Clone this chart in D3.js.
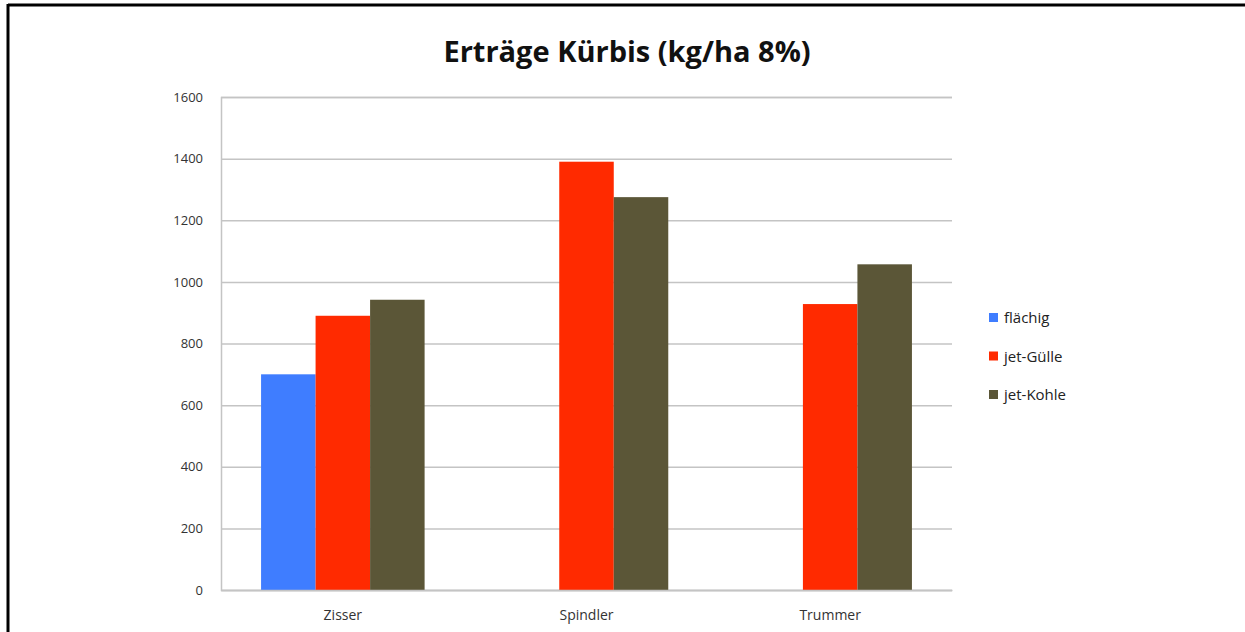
<!DOCTYPE html>
<html>
<head>
<meta charset="utf-8">
<script src="https://cdn.jsdelivr.net/npm/d3@7"></script>
<style>
  html, body { margin: 0; padding: 0; background: #fff; }
  svg { display: block; }
  .tick text { font-family: "Open Sans", sans-serif; fill: #333; }
</style>
</head>
<body>
<svg id="chart" width="1245" height="632"></svg>
<script>
/* ── Data ─────────────────────────────────────────── */
const categories = ['Zisser', 'Spindler', 'Trummer'];
const seriesNames = ['flächig', 'jet-Gülle', 'jet-Kohle'];
const flaechig  = [700, null, null];
const jetGuelle = [890, 1390, 928];
const jetKohle  = [942, 1275, 1057];
const yTicks = [0, 200, 400, 600, 800, 1000, 1200, 1400, 1600];
const colors = ['#3f7dff', '#ff2a00', '#5b5637'];

const seriesValues = [flaechig, jetGuelle, jetKohle];

/* ── Layout ───────────────────────────────────────── */
const svg = d3.select('#chart');
const plot = { left: 221, right: 952, top: 97, bottom: 590 };

// frame (top + left edges only, the rest is cropped off)
svg.append('line').attr('x1', 8).attr('x2', 1245).attr('y1', 5).attr('y2', 5)
  .attr('stroke', '#000').attr('stroke-width', 3);
svg.append('line').attr('x1', 8).attr('x2', 8).attr('y1', 4).attr('y2', 632)
  .attr('stroke', '#000').attr('stroke-width', 3);

const x = d3.scaleBand().domain(categories).range([plot.left, plot.right]).paddingInner(0).paddingOuter(0);
const x1 = d3.scaleBand().domain(d3.range(seriesNames.length))
  .range([0, x.bandwidth()]).paddingOuter(0.735).paddingInner(0);
const y = d3.scaleLinear().domain([0, 1600]).range([plot.bottom, plot.top]);

/* ── Grid + y axis ────────────────────────────────── */
const yAxis = d3.axisLeft(y).tickValues(yTicks).tickFormat(d3.format('d'))
  .tickSize(-(plot.right - plot.left)).tickPadding(18);
const gy = svg.append('g').attr('transform', `translate(${plot.left},0)`).call(yAxis);
gy.select('.domain').attr('stroke', '#c4c4c4').attr('stroke-width', 1.5);
gy.selectAll('.tick line').attr('stroke', '#c4c4c4').attr('stroke-width', 1.5);
gy.selectAll('.tick text').attr('font-size', 13);

/* ── Bars ─────────────────────────────────────────── */
const rows = [];
categories.forEach((c, i) => {
  seriesValues.forEach((vals, s) => {
    if (vals[i] != null) rows.push({ cat: c, s, v: vals[i] });
  });
});

svg.append('g').selectAll('rect')
  .data(rows)
  .join('rect')
  .attr('x', d => x(d.cat) + x1(d.s))
  .attr('y', d => y(d.v))
  .attr('width', x1.bandwidth())
  .attr('height', d => y(0) - y(d.v))
  .attr('fill', d => colors[d.s]);

/* ── X axis ───────────────────────────────────────── */
const xAxis = d3.axisBottom(x).tickSize(0).tickPadding(20);
const gx = svg.append('g').attr('transform', `translate(0,${plot.bottom})`).call(xAxis);
gx.select('.domain').attr('stroke', '#c4c4c4').attr('stroke-width', 1.5);
gx.selectAll('.tick text').attr('font-size', 14);

/* ── Title ────────────────────────────────────────── */
svg.append('text')
  .attr('x', 627).attr('y', 62)
  .attr('text-anchor', 'middle')
  .attr('font-family', '"Open Sans", sans-serif')
  .attr('font-weight', 700)
  .attr('font-size', 29)
  .attr('fill', '#111')
  .text('Erträge Kürbis (kg/ha 8%)');

/* ── Legend ───────────────────────────────────────── */
const legend = svg.append('g').attr('transform', 'translate(989,318)');
const item = legend.selectAll('g').data(seriesNames).join('g')
  .attr('transform', (d, i) => `translate(0,${i * 38.5})`);
item.append('rect').attr('x', 0).attr('y', -5).attr('width', 9).attr('height', 9)
  .attr('fill', (d, i) => colors[i]);
item.append('text').attr('x', 15).attr('y', 5)
  .attr('font-family', '"Open Sans", sans-serif')
  .attr('font-size', 15)
  .attr('fill', '#222')
  .text(d => d);
</script>
</body>
</html>
